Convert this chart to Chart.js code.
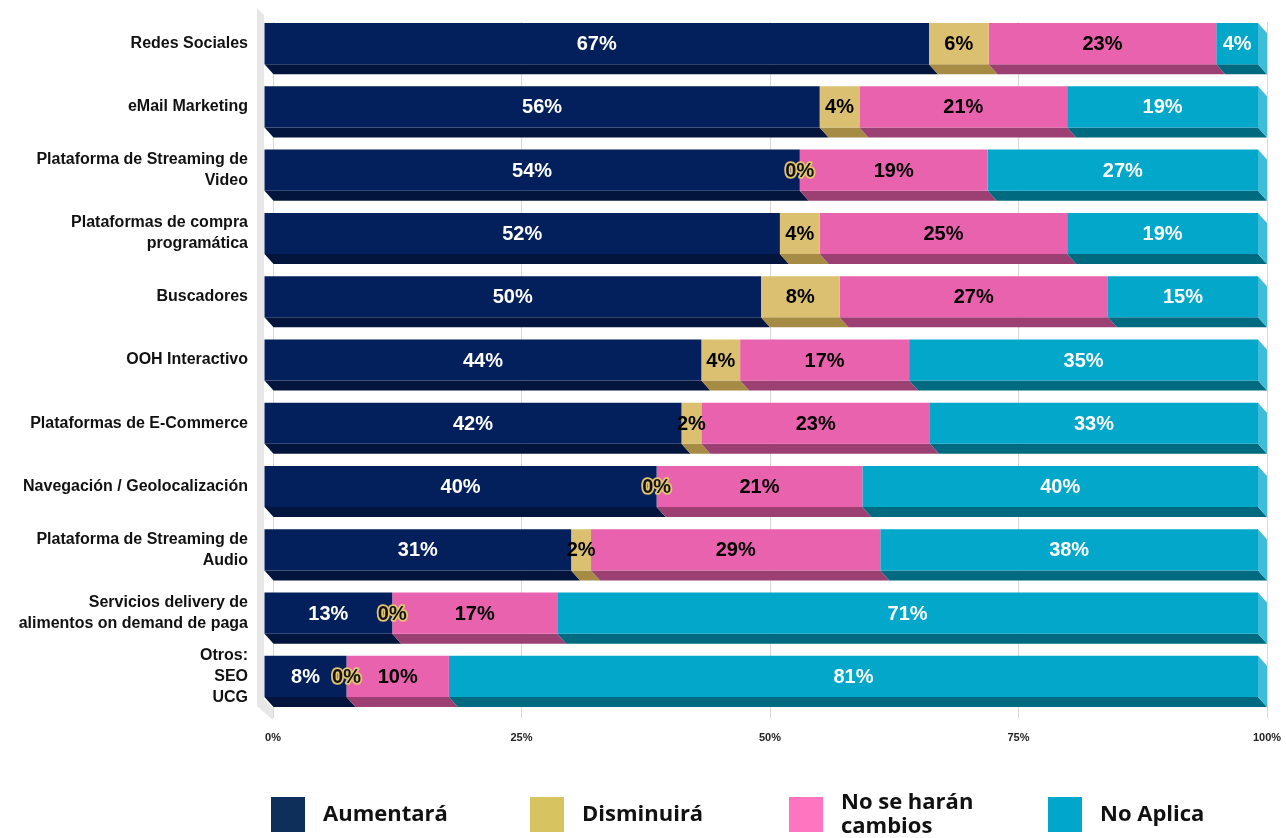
<!DOCTYPE html>
<html>
<head>
<meta charset="utf-8">
<title>Inversión por plataforma</title>
<script src="https://cdn.jsdelivr.net/npm/chart.js@4.4.1/dist/chart.umd.min.js"></script>
<style>
    html, body { margin: 0; padding: 0; background: #ffffff; }
    #wrap { position: relative; width: 1286px; height: 838px; }
</style>
</head>
<body>
<div id="wrap"><canvas id="chart3d"></canvas></div>
<script>
console.log("chart page loaded");

// categories (top to bottom)
const categories = [
    "Redes Sociales",
    "eMail Marketing",
    ["Plataforma de Streaming de", "Video"],
    ["Plataformas de compra", "programática"],
    "Buscadores",
    "OOH Interactivo",
    "Plataformas de E-Commerce",
    "Navegación / Geolocalización",
    ["Plataforma de Streaming de", "Audio"],
    ["Servicios delivery de", "alimentos on demand de paga"],
    ["Otros:", "SEO", "UCG"]
];

// series values, % of respondents
const aumentara  = [66.9, 55.9, 53.9, 51.9, 50.0, 44.0, 42.0, 39.5, 30.9, 12.9, 8.3];
const disminuira = [6.0, 4.0, 0, 4.0, 7.9, 3.9, 2.0, 0, 2.0, 0, 0];
const sinCambios = [22.9, 20.9, 18.9, 24.9, 27.0, 17.0, 23.0, 20.7, 29.1, 16.6, 10.3];
const noAplica   = [4.2, 19.2, 27.2, 19.2, 15.1, 35.1, 33.0, 39.8, 38.0, 70.5, 81.4];

const seriesNames = ["Aumentará", "Disminuirá", "No se harán cambios", "No Aplica"];

// x axis ticks
const xTicks = [0, 25, 50, 75, 100];

// colours: front face, bottom face, label text, legend swatch
const frontColors  = ["#04205c", "#dcc071", "#e962ad", "#02a7ca"];
const bottomColors = ["#03143d", "#a68b45", "#9c3f72", "#006b80"];
const textColors   = ["#ffffff", "#000000", "#000000", "#ffffff"];
const legendColors = ["#0d2f5a", "#d7c360", "#ff75c0", "#00a6cc"];
const sideColor = "#3fbcd8";

const DEPTH_X = 9;
const DEPTH_Y = 10;

const bar3dPlugin = {
    id: 'bar3d',
    beforeDatasetsDraw(chart) {
        const ctx = chart.ctx;
        const area = chart.chartArea;

        // grey side wall on the left
        ctx.save();
        ctx.fillStyle = "#e7e7e7";
        ctx.beginPath();
        ctx.moveTo(area.left - 16, area.top - 14);
        ctx.lineTo(area.left - 9, area.top - 7);
        ctx.lineTo(area.left - 9, area.bottom - 19);
        ctx.lineTo(area.left, area.bottom - 10);
        ctx.lineTo(area.left, area.bottom + 2);
        ctx.lineTo(area.left - 16, area.bottom - 12);
        ctx.closePath();
        ctx.fill();

        // bottom faces + right side face
        const last = chart.data.datasets.length - 1;
        chart.data.datasets.forEach((ds, di) => {
            const meta = chart.getDatasetMeta(di);
            meta.data.forEach((bar) => {
                const p = bar.getProps(['x', 'y', 'base', 'height'], true);
                const x0 = Math.min(p.base, p.x);
                const x1 = Math.max(p.base, p.x);
                const yb = p.y + p.height / 2;
                const yt = p.y - p.height / 2;
                if (x1 - x0 > 0.01) {
                    ctx.fillStyle = bottomColors[di];
                    ctx.beginPath();
                    ctx.moveTo(x0 - DEPTH_X, yb - DEPTH_Y);
                    ctx.lineTo(x1 - DEPTH_X, yb - DEPTH_Y);
                    ctx.lineTo(x1, yb);
                    ctx.lineTo(x0, yb);
                    ctx.closePath();
                    ctx.fill();
                }
                if (di === last) {
                    ctx.fillStyle = sideColor;
                    ctx.beginPath();
                    ctx.moveTo(x1 - DEPTH_X, yt - DEPTH_Y);
                    ctx.lineTo(x1, yt);
                    ctx.lineTo(x1, yb);
                    ctx.lineTo(x1 - DEPTH_X, yb - DEPTH_Y);
                    ctx.closePath();
                    ctx.fill();
                }
            });
        });
        ctx.restore();

        // front faces are drawn shifted up-left
        ctx.save();
        ctx.translate(-DEPTH_X, -DEPTH_Y);
    },
    afterDatasetsDraw(chart) {
        const ctx = chart.ctx;
        ctx.restore();

        // value labels
        ctx.save();
        ctx.font = "bold 20px 'Liberation Sans', Arial, sans-serif";
        ctx.textAlign = 'center';
        ctx.textBaseline = 'middle';
        chart.data.datasets.forEach((ds, di) => {
            const meta = chart.getDatasetMeta(di);
            meta.data.forEach((bar, i) => {
                const v = ds.data[i];
                const p = bar.getProps(['x', 'y', 'base'], true);
                const cx = (p.x + p.base) / 2 - DEPTH_X;
                const cy = p.y - DEPTH_Y + 1;
                const txt = Math.round(v) + '%';
                if (v === 0) {
                    ctx.lineWidth = 3.5;
                    ctx.lineJoin = 'round';
                    ctx.strokeStyle = "#e2c472";
                    ctx.strokeText(txt, cx, cy);
                    ctx.fillStyle = "#111111";
                } else {
                    ctx.fillStyle = textColors[di];
                }
                ctx.fillText(txt, cx, cy);
            });
        });
        ctx.restore();
    },
    afterDraw(chart) {
        // legend at the bottom
        const ctx = chart.ctx;
        ctx.save();
        ctx.font = "bold 22px 'Open Sans', sans-serif";
        ctx.textBaseline = 'middle';
        ctx.textAlign = 'left';
        chart.data.datasets.forEach((ds, di) => {
            const bx = 271 + di * 259;
            const by = 797;
            ctx.fillStyle = legendColors[di];
            ctx.fillRect(bx, by, 34, 35);
            ctx.fillStyle = "#111111";
            const lines = wrapText(ctx, ds.label, 140);
            const lh = 24;
            const startY = by + 18 - (lines.length - 1) * lh / 2;
            lines.forEach((ln, li) => {
                ctx.fillText(ln, bx + 52, startY + li * lh);
            });
        });
        ctx.restore();
    }
};

function wrapText(ctx, text, maxWidth) {
    const words = text.split(' ');
    const lines = [];
    let cur = '';
    words.forEach((w) => {
        const test = cur ? cur + ' ' + w : w;
        if (ctx.measureText(test).width > maxWidth && cur) {
            lines.push(cur);
            cur = w;
        } else {
            cur = test;
        }
    });
    if (cur) lines.push(cur);
    return lines;
}

function createChart() {
    const seriesData = [aumentara, disminuira, sinCambios, noAplica];
    const ctx = document.getElementById('chart3d');
    const chart = new Chart(ctx, {
        type: 'bar',
        data: {
            labels: categories,
            datasets: seriesData.map((d, i) => ({
                label: seriesNames[i],
                data: d,
                backgroundColor: frontColors[i],
                borderWidth: 0,
                barPercentage: 0.65,
                categoryPercentage: 1.0,
                clip: false
            }))
        },
        options: {
            indexAxis: 'y',
            responsive: true,
            maintainAspectRatio: false,
            animation: false,
            layout: {
                padding: { top: 22, right: 19, bottom: 80, left: 0 }
            },
            plugins: {
                legend: { display: false },
                tooltip: { enabled: false }
            },
            scales: {
                x: {
                    stacked: true,
                    min: 0,
                    max: 100,
                    afterBuildTicks: (scale) => {
                        scale.ticks = xTicks.map(v => ({ value: v }));
                    },
                    afterFit: (scale) => {
                        scale.height = 40;
                        scale.paddingLeft = 0;
                        scale.paddingRight = 0;
                    },
                    grid: {
                        color: "#d9d9d9",
                        lineWidth: 1,
                        drawTicks: false
                    },
                    border: { display: false },
                    ticks: {
                        padding: 13,
                        color: "#222222",
                        font: { family: "'Liberation Sans', Arial, sans-serif", size: 11, weight: 'bold' },
                        callback: (v) => v + '%'
                    }
                },
                y: {
                    stacked: true,
                    afterFit: (scale) => {
                        scale.width = 273;
                        scale.paddingTop = 0;
                        scale.paddingBottom = 0;
                    },
                    grid: { display: false, drawTicks: false },
                    border: { display: false },
                    ticks: {
                        autoSkip: false,
                        padding: 25,
                        labelOffset: -DEPTH_Y,
                        color: "#111111",
                        font: { family: "'Liberation Sans', Arial, sans-serif", size: 16, weight: 'bold', lineHeight: 1.3 }
                    }
                }
            }
        },
        plugins: [bar3dPlugin]
    });
    console.log('Chart created', chart.chartArea);
}

createChart();
</script>
</body>
</html>
